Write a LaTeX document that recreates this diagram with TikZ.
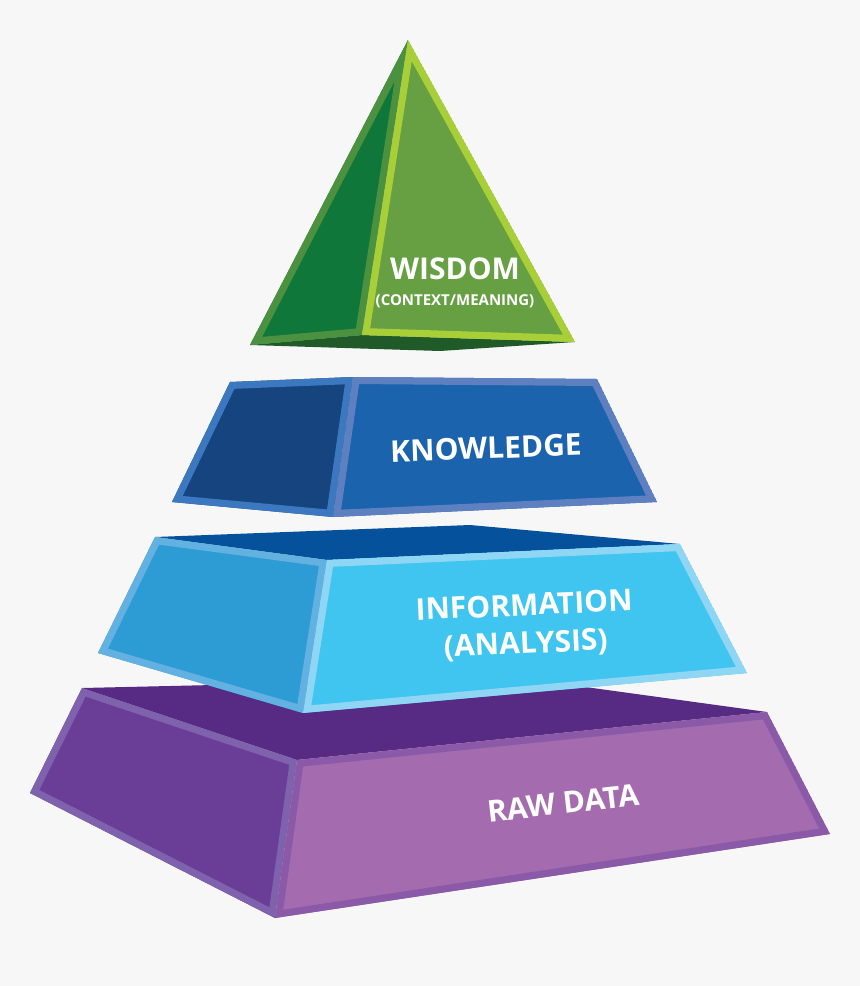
\documentclass[tikz,border=0pt]{standalone}
\usepackage{fontspec}
\setmainfont{Open Sans}
\usepackage{tikz}
\usetikzlibrary{positioning}

\definecolor{bgray}{HTML}{F7F7F7}
\definecolor{wisleft}{HTML}{10773A}
\definecolor{wisleftrim}{HTML}{4C9140}
\definecolor{wisfront}{HTML}{66A043}
\definecolor{wisfrontrim}{HTML}{A9CF38}
\definecolor{wisunder}{HTML}{1F5A28}
\definecolor{knowleft}{HTML}{15447F}
\definecolor{knowleftrim}{HTML}{3C78C0}
\definecolor{knowfront}{HTML}{1B63AD}
\definecolor{knowfrontrim}{HTML}{5E80C0}
\definecolor{infotop}{HTML}{05519B}
\definecolor{infoleft}{HTML}{2D9BD4}
\definecolor{infoleftrim}{HTML}{62B1E1}
\definecolor{infofront}{HTML}{40C5F0}
\definecolor{infofrontrim}{HTML}{8FD6F5}
\definecolor{rawtop}{HTML}{572A84}
\definecolor{rawleft}{HTML}{6A3E97}
\definecolor{rawleftrim}{HTML}{7E62AD}
\definecolor{rawfront}{HTML}{A46CAE}
\definecolor{rawfrontrim}{HTML}{8A5AA8}

% one face of a layer: fill, inner rim, outline
\newcommand{\pyrface}[3]{%
  \begin{scope}
    \clip #3 -- cycle;
    \fill[#1] #3 -- cycle;
    \draw[#2, line width=14pt, line join=miter] #3 -- cycle;
  \end{scope}}

\begin{document}
\begin{tikzpicture}[x=1pt, y=-1pt,
    lbl/.style={text=white, inner sep=0pt, font=\bfseries\fontsize{30}{38}\selectfont},
    sublbl/.style={text=white, inner sep=0pt, font=\bfseries\fontsize{15}{18}\selectfont}]
    % Background
    \fill[bgray] (0,0) rectangle (860,986);
    \useasboundingbox (0,0) rectangle (860,986);

    % Raw data layer
    \fill[rawtop] (82,688) -- (520,678) -- (767,712) -- (297,760) -- cycle;
    \pyrface{rawleft}{rawleftrim}{(82,688) -- (297,760) -- (275,918) -- (30,793)}
    \pyrface{rawfront}{rawfrontrim}{(297,760) -- (767,712) -- (830,834) -- (275,918)}

    % Information layer
    \fill[infotop] (155,537) -- (470,525) -- (680,544) -- (327,560) -- cycle;
    \pyrface{infoleft}{infoleftrim}{(155,537) -- (327,560) -- (303,713) -- (98,653)}
    \pyrface{infofront}{infofrontrim}{(327,560) -- (680,544) -- (747,673) -- (303,713)}

    % Knowledge layer
    \pyrface{knowleft}{knowleftrim}{(230,382) -- (353,377) -- (333,517) -- (172,502)}
    \pyrface{knowfront}{knowfrontrim}{(353,377) -- (597,379) -- (657,502) -- (333,517)}

    % Wisdom tip
    \fill[wisunder] (250,345) -- (362,335) -- (575,342) -- (440,351) -- cycle;
    \pyrface{wisleft}{wisleftrim}{(408,40) -- (362,335) -- (250,345)}
    \pyrface{wisfront}{wisfrontrim}{(408,40) -- (575,342) -- (362,335)}

    % Labels
    \node[lbl] (wisdom) at (455,269) {WISDOM};
    \node[sublbl, below=14pt of wisdom] (meaning) {(CONTEXT/MEANING)};
    \node[lbl, rotate=2] (knowledge) at (486,448) {KNOWLEDGE};
    \node[lbl, rotate=2.6, align=center] (information) at (525,626) {INFORMATION\\(ANALYSIS)};
    \node[lbl, rotate=6.5] (rawdata) at (563,803) {RAW DATA};
\end{tikzpicture}
\end{document}
